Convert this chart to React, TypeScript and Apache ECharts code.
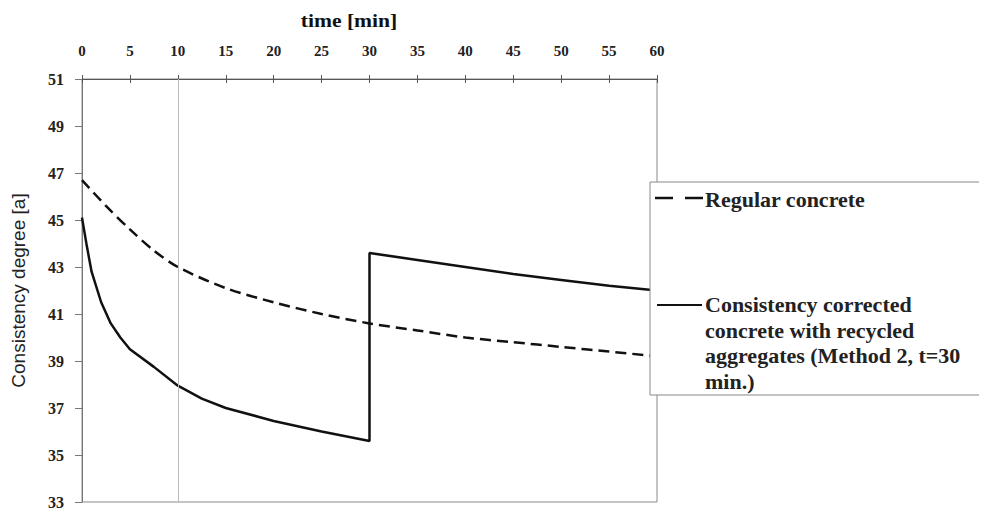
import React, { useEffect, useRef } from "react";
import * as echarts from "echarts";

const xTitle = "time [min]";
const yTitle = "Consistency degree [a]";
const regularName = "Regular concrete";
const recycledNameLines = [
  "Consistency corrected",
  "concrete with recycled",
  "aggregates (Method 2, t=30",
  "min.)",
];

// Regular concrete (dashed)
const regularT = [0, 2.5, 5, 7.5, 10, 15, 20, 25, 30, 35, 40, 45, 50, 55, 60];
const regularV = [46.7, 45.6, 44.6, 43.7, 43.0, 42.1, 41.5, 41.0, 40.6, 40.3, 40.0, 39.8, 39.6, 39.4, 39.2];

// Consistency corrected recycled concrete (solid)
const recycledT = [0, 0.5, 1, 2, 3, 4, 5, 7.5, 10, 12.5, 15, 20, 25, 30, 30, 35, 40, 45, 50, 55, 60];
const recycledV = [45.1, 43.9, 42.8, 41.5, 40.6, 40.0, 39.5, 38.75, 37.95, 37.4, 37.0, 36.45, 36.0, 35.6, 43.6, 43.3, 43.0, 42.7, 42.45, 42.2, 42.0];

const gridLineAt = 10;

export default function App() {
  const ref = useRef<HTMLDivElement>(null);
  useEffect(() => {
    if (!ref.current) return;
    const chart = echarts.init(ref.current, undefined, { renderer: "svg" });
    const serif = "'Liberation Serif', 'Times New Roman', serif";
    const xAxisBase = {
      type: "value",
      position: "top",
      min: 0,
      max: 60,
      interval: 5,
      splitLine: { show: false },
    };
    chart.setOption({
      animation: false,
      backgroundColor: "#fff",
      grid: {
        left: 82,
        right: 330,
        top: 79,
        bottom: 7,
        show: true,
        borderColor: "#8a8a8a",
        borderWidth: 1,
        outerBoundsMode: "none",
        containLabel: false,
      },
      xAxis: [
        {
          ...xAxisBase,
          axisLine: { show: true, lineStyle: { color: "#555", width: 1.2 } },
          axisTick: { show: true, length: 4, lineStyle: { color: "#555" } },
          axisLabel: { margin: 21, fontFamily: serif, fontSize: 15, fontWeight: "bold", color: "#222" },
        },
        {
          ...xAxisBase,
          axisLine: { show: false },
          axisTick: { show: true, inside: true, length: 4, lineStyle: { color: "#555" } },
          axisLabel: { show: false },
        },
      ],
      yAxis: {
        type: "value",
        min: 33,
        max: 51,
        interval: 2,
        name: yTitle,
        nameLocation: "middle",
        nameGap: 54,
        nameTextStyle: { fontFamily: "'Liberation Sans', Arial, sans-serif", fontSize: 19, color: "#222" },
        axisLine: { show: true, lineStyle: { color: "#777", width: 1 } },
        axisTick: { show: true, length: 7, lineStyle: { color: "#777" } },
        axisLabel: { margin: 18, fontFamily: serif, fontSize: 16, fontWeight: "bold", color: "#222" },
        splitLine: { show: false },
      },
      series: [
        {
          name: regularName,
          type: "line",
          xAxisIndex: 0,
          data: regularT.map((t, i) => [t, regularV[i]]),
          smooth: 0.3,
          showSymbol: false,
          lineStyle: { color: "#111", width: 2.5, type: [11, 6] },
          markLine: {
            silent: true,
            symbol: "none",
            label: { show: false },
            lineStyle: { color: "#bbb", width: 1, type: "solid" },
            data: [{ xAxis: gridLineAt }],
          },
        },
        {
          name: recycledNameLines.join(" "),
          type: "line",
          xAxisIndex: 0,
          data: recycledT.map((t, i) => [t, recycledV[i]]),
          smooth: false,
          showSymbol: false,
          lineStyle: { color: "#111", width: 2.5 },
        },
      ],
      graphic: [
        {
          type: "text",
          x: 349,
          y: 21,
          scaleX: 1.2,
          style: {
            text: xTitle,
            fontFamily: serif,
            fontSize: 18,
            fontWeight: "bold",
            fill: "#111",
            align: "center",
            verticalAlign: "middle",
          },
        },
        {
          type: "rect",
          z: 100,
          shape: { x: 650, y: 182, width: 400, height: 213 },
          style: { fill: "#fff", stroke: "#888", lineWidth: 1 },
        },
        {
          type: "line",
          z: 101,
          shape: { x1: 655, y1: 198, x2: 703, y2: 198 },
          style: { stroke: "#111", lineWidth: 2.5, lineDash: [18, 12] },
        },
        {
          type: "text",
          z: 101,
          x: 705,
          y: 199,
          style: {
            text: regularName,
            fontFamily: serif,
            fontSize: 22,
            fontWeight: "bold",
            fill: "#222",
            verticalAlign: "middle",
          },
        },
        {
          type: "line",
          z: 101,
          shape: { x1: 657, y1: 305, x2: 702, y2: 305 },
          style: { stroke: "#111", lineWidth: 2 },
        },
        {
          type: "text",
          z: 101,
          x: 705,
          y: 292,
          style: {
            text: recycledNameLines.join("\n"),
            fontFamily: serif,
            fontSize: 22,
            fontWeight: "bold",
            lineHeight: 25.5,
            fill: "#222",
            verticalAlign: "top",
          },
        },
      ],
    });
    return () => chart.dispose();
  }, []);
  return <div ref={ref} style={{ width: 987, height: 509, marginLeft: -8, marginTop: -8 }} />;
}
